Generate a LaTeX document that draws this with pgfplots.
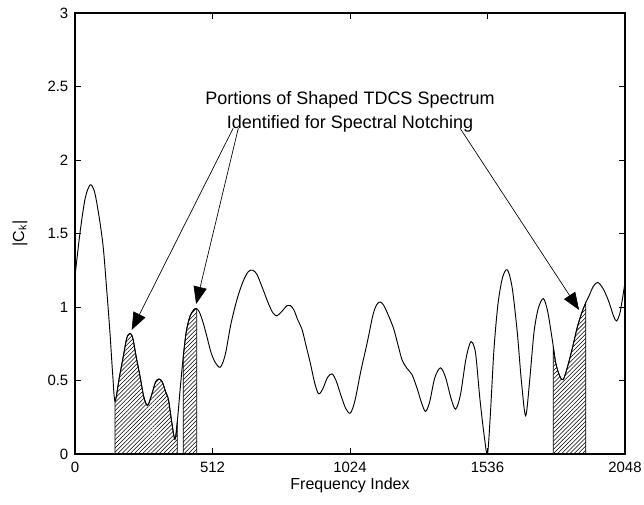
\documentclass[border=0pt]{standalone}
\usepackage{fontspec}
\setmainfont{Liberation Sans}
\usepackage{pgfplots}
\pgfplotsset{compat=1.18}
\usepgfplotslibrary{fillbetween}
\usetikzlibrary{patterns.meta,arrows.meta}
\begin{document}
\begin{tikzpicture}
\begin{axis}[
  scale only axis, width=412.5pt, height=330.75pt,
  xmin=0, xmax=2048, ymin=0, ymax=3,
  xtick={0,512,1024,1536,2048},
  ytick={0,0.5,1,1.5,2,2.5,3},
  scaled x ticks=false,
  /pgf/number format/assume math mode=true,
  /pgf/number format/1000 sep={},
  /pgf/number format/fixed,
  tick align=inside,
  major tick length=4.5pt,
  axis line style={line width=0.8pt},
  tick style={line width=0.6pt, black},
  ticklabel style={font=\fontsize{11.2}{13}\selectfont},
  xticklabel style={yshift=-2.5pt},
  yticklabel style={xshift=-1.5pt},
  xlabel={Frequency Index},
  xlabel style={font=\fontsize{12}{14}\selectfont, at={(axis description cs:0.5,0)}, anchor=base, yshift=-26.5pt},
  ylabel={|C\textsubscript{k}|},
  ylabel style={font=\fontsize{12}{14}\selectfont, at={(axis description cs:-0.1,0.5)}, anchor=center},
]
\addplot[name path=curve, black, line width=0.7pt, smooth] coordinates {
(0,1.21) (19,1.51) (38,1.74) (56,1.83) (70,1.80) (81,1.71) (95,1.55) (106,1.39) (118,1.12) (130,0.83) (140,0.55) (149,0.36)
(165,0.52) (180,0.665) (193,0.79) (205,0.82) (215,0.79) (228,0.66) (242,0.53) (256,0.39) (270,0.33) (285,0.40) (300,0.49)
(313,0.51) (325,0.49) (338,0.42) (348,0.37) (360,0.22) (372,0.10) (381,0.22) (392,0.45) (403,0.66) (415,0.84) (429,0.94)
(442,0.98) (451,0.99) (462,0.97) (476,0.90) (491,0.80) (505,0.70) (520,0.63) (541,0.59) (560,0.68) (580,0.88) (603,1.05)
(625,1.17) (645,1.24) (662,1.25) (678,1.22) (700,1.12) (721,1.02) (737,0.96) (752,0.94) (770,0.97) (790,1.01) (802,1.01)
(815,0.98) (830,0.91) (845,0.85) (860,0.74) (876,0.62) (893,0.48) (907,0.41) (922,0.44) (940,0.52) (957,0.545) (972,0.50)
(990,0.40) (1008,0.31) (1025,0.278) (1042,0.36) (1065,0.57) (1088,0.757) (1110,0.95) (1125,1.02) (1137,1.034) (1150,1.01)
(1170,0.93) (1187,0.85) (1203,0.74) (1218,0.64) (1237,0.58) (1255,0.54) (1275,0.44) (1290,0.35) (1305,0.29) (1320,0.35)
(1340,0.52) (1361,0.586) (1380,0.52) (1400,0.38) (1417,0.305) (1435,0.40) (1455,0.64) (1470,0.75) (1479,0.76) (1492,0.68)
(1508,0.37) (1524,0.12) (1536,0.0) (1547,0.28) (1560,0.71) (1575,1.02) (1592,1.20) (1610,1.253) (1628,1.13) (1647,0.825)
(1662,0.50) (1678,0.26) (1693,0.50) (1709,0.825) (1725,0.99) (1744,1.057) (1760,0.97) (1777,0.78) (1790,0.62) (1805,0.53)
(1818,0.506) (1835,0.60) (1852,0.72) (1870,0.86) (1887,0.96) (1902,1.03) (1914,1.075) (1930,1.14) (1947,1.167) (1968,1.12)
(1989,1.03) (2005,0.94) (2016,0.905) (2028,0.95) (2038,1.05) (2048,1.167)
};
\path[name path=base] (axis cs:0,0) -- (axis cs:2048,0);
\addplot[pattern={Lines[angle=45,distance=2.2pt,line width=0.4pt]}, draw=black, line width=0.6pt]
  fill between[of=curve and base, soft clip={domain=149:381}];
\addplot[pattern={Lines[angle=45,distance=2.2pt,line width=0.4pt]}, draw=black, line width=0.6pt]
  fill between[of=curve and base, soft clip={domain=403:453}];
\addplot[pattern={Lines[angle=45,distance=2.2pt,line width=0.4pt]}, draw=black, line width=0.6pt]
  fill between[of=curve and base, soft clip={domain=1781:1902}];
\node[align=center, font=\fontsize{13.5}{18}\selectfont] at (axis cs:1024,2.33)
  {Portions of Shaped TDCS Spectrum\\Identified for Spectral Notching};
\draw[line width=0.5pt, -{Triangle[length=13pt,width=10pt]}] (axis cs:589,2.216) -- (axis cs:211,0.844);
\draw[line width=0.5pt, -{Triangle[length=13pt,width=10pt]}] (axis cs:608,2.216) -- (axis cs:451,1.02);
\draw[line width=0.5pt, -{Triangle[length=13pt,width=10pt]}] (axis cs:1434,2.216) -- (axis cs:1877,0.98);
\end{axis}
\pgfresetboundingbox
\path[use as bounding box] (-56.25pt,-38.25pt) rectangle (426.75pt,340.5pt);
\end{tikzpicture}
\end{document}
